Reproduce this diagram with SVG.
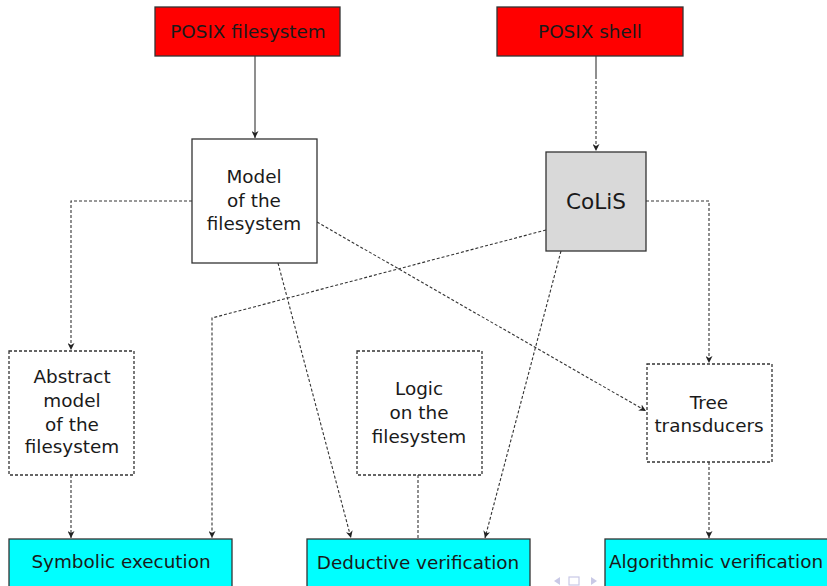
<svg xmlns="http://www.w3.org/2000/svg" width="827" height="586" viewBox="0 0 827 586">
<defs>
<marker id="ah" viewBox="0 0 10 10" refX="10" refY="5" markerWidth="7" markerHeight="7" markerUnits="userSpaceOnUse" orient="auto">
<path d="M0,0 L10,5 L0,10 L3,5 Z" fill="#222"/>
</marker>
<style>
.box{stroke:#333;stroke-width:1.3}
.dbox{fill:#fff;stroke:#333;stroke-width:1.3;stroke-dasharray:3 2}
.t{font-family:"DejaVu Sans","Liberation Sans",sans-serif;font-size:18.4px;fill:#1a1a1a;text-anchor:middle}
.c{fill:none;stroke:#333;stroke-width:1.1}
.d{fill:none;stroke:#333;stroke-width:1.1;stroke-dasharray:3 2}
.nav{fill:#c9c9e6}
</style>
</defs>
<rect width="827" height="586" fill="#fff"/>
<g id="connectors">
<line class="c" x1="255" y1="56" x2="255" y2="138" marker-end="url(#ah)"/>
<line class="c" x1="596" y1="56" x2="596" y2="76"/>
<line class="d" x1="596" y1="76" x2="596" y2="151" marker-end="url(#ah)"/>
<polyline class="d" points="192,201 71,201 71,350" marker-end="url(#ah)"/>
<polyline class="d" points="646,201 709,201 709,363" marker-end="url(#ah)"/>
<line class="d" x1="317" y1="222" x2="646" y2="411" marker-end="url(#ah)"/>
<line class="d" x1="278" y1="263" x2="351" y2="538" marker-end="url(#ah)"/>
<line class="d" x1="561" y1="251" x2="485" y2="538" marker-end="url(#ah)"/>
<polyline class="d" points="546,230 212,318 212,538" marker-end="url(#ah)"/>
<line class="d" x1="71" y1="475" x2="71" y2="538" marker-end="url(#ah)"/>
<line class="d" x1="418" y1="475" x2="418" y2="539"/>
<line class="d" x1="709" y1="462" x2="709" y2="538" marker-end="url(#ah)"/>
</g>
<g id="posix-filesystem">
<rect class="box" x="155" y="7" width="185" height="49" fill="#ff0000"/>
<text class="t" x="248" y="38">POSIX filesystem</text>
</g>
<g id="posix-shell">
<rect class="box" x="497" y="7" width="186" height="49" fill="#ff0000"/>
<text class="t" x="590" y="38">POSIX shell</text>
</g>
<g id="model">
<rect class="box" x="192" y="139" width="125" height="124" fill="#fff"/>
<text class="t" x="254" y="183">Model</text>
<text class="t" x="254" y="207">of the</text>
<text class="t" x="254" y="230">filesystem</text>
</g>
<g id="colis">
<rect class="box" x="546" y="152" width="100" height="99" fill="#d9d9d9"/>
<text class="t" x="596" y="209" style="font-size:21.6px">CoLiS</text>
</g>
<g id="abstract">
<rect class="dbox" x="9" y="351" width="125" height="124"/>
<text class="t" x="72" y="383">Abstract</text>
<text class="t" x="72" y="407">model</text>
<text class="t" x="72" y="431">of the</text>
<text class="t" x="72" y="453">filesystem</text>
</g>
<g id="logic">
<rect class="dbox" x="357" y="351" width="125" height="124"/>
<text class="t" x="419" y="395">Logic</text>
<text class="t" x="419" y="419">on the</text>
<text class="t" x="419" y="443">filesystem</text>
</g>
<g id="tree">
<rect class="dbox" x="647" y="364" width="125" height="98"/>
<text class="t" x="709" y="409">Tree</text>
<text class="t" x="709" y="432">transducers</text>
</g>
<g id="symbolic">
<rect class="box" x="9" y="539" width="223" height="60" fill="#00ffff"/>
<text class="t" x="121" y="568">Symbolic execution</text>
</g>
<g id="deductive">
<rect class="box" x="307" y="539" width="223" height="60" fill="#00ffff"/>
<text class="t" x="418" y="569">Deductive verification</text>
</g>
<g id="algorithmic">
<rect class="box" x="605" y="539" width="230" height="60" fill="#00ffff"/>
<text class="t" x="716" y="568">Algorithmic verification</text>
</g>
<g id="nav">
<polygon class="nav" points="560,577 554,581 560,585"/>
<rect x="569" y="577" width="10" height="8" fill="none" stroke="#c9c9e6" stroke-width="1.2"/>
<polygon class="nav" points="591,577 597,581 591,585"/>
</g>
</svg>
